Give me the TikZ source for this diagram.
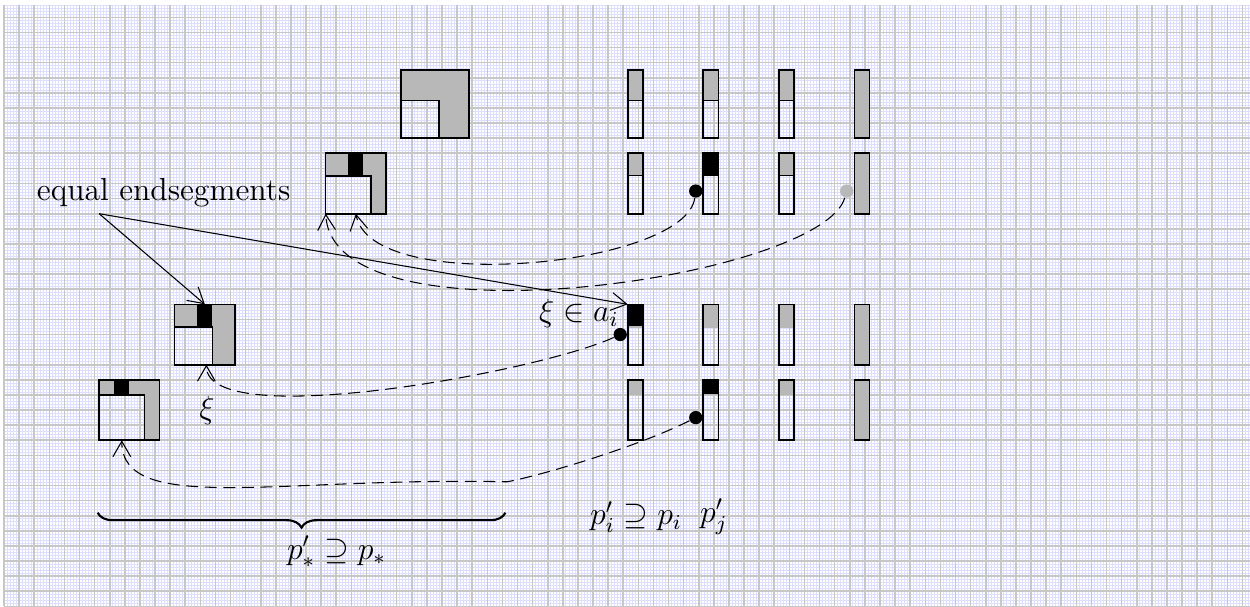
\documentclass[tikz,border=0pt,12pt]{standalone}
\usepackage{amsmath}
\usepackage{amssymb}
\usetikzlibrary{arrows.meta,decorations.pathreplacing}
\colorlet{endgray}{black!28}
\tikzset{
  dot/.style={circle,fill=black,minimum size=5pt,inner sep=0pt},
  ptr/.style={-{Straight Barb[length=5.8pt,width=6.7pt]}},
  conn/.style={ptr,dash pattern=on 4.5pt off 2.5pt},
  box/.style={semithick}
}

\begin{document}
\begin{tikzpicture}[x=0.2cm,y=0.2cm]
   \useasboundingbox (-0.565,0) rectangle (82.2,40.15);
   % graph paper
   \draw[shift={(-0.3,0)},step=0.2,blue!13,line width=0.25pt] (0,0) grid (82.5,39.85);
   \draw[shift={(-0.3,0)},step=1,black!22,line width=0.6pt] (0,0) grid (82.5,39.85);

   % the squares
   \fill[endgray,even odd rule] (26,31) rectangle (30.5,35.5) (26,31) rectangle (28.5,33.5);
   \draw[box] (26,31) rectangle (30.5,35.5) (26,31) rectangle (28.5,33.5);
   \fill[endgray,even odd rule] (21,26) rectangle (25,30) (21,26) rectangle (24,28.5);
   \fill (22.5,28.5) rectangle (23.5,30);
   \draw[box] (21,26) rectangle (25,30) (21,26) rectangle (24,28.5);
   \fill[endgray,even odd rule] (11,16) rectangle (15,20) (11,16) rectangle (13.5,18.5);
   \fill (12.5,18.5) rectangle (13.5,20);
   \draw[box] (11,16) rectangle (15,20) (11,16) rectangle (13.5,18.5);
   \fill[endgray,even odd rule] (6,11) rectangle (10,15) (6,11) rectangle (9,14);
   \fill (7,14) rectangle (8,15);
   \draw[box] (6,11) rectangle (10,15) (6,11) rectangle (9,14);

   % the columns
   \foreach \lo/\mid/\hi/\fa/\fb/\fc/\sep in {31/33.5/35.5/endgray/endgray/endgray/black,
        26/28.5/30/endgray/black/endgray/black, 16/18.5/20/black/endgray/endgray/endgray,
        11/14/15/endgray/black/endgray/endgray} {
     \foreach \x/\f in {41/\fa, 46/\fb, 51/\fc} {
       \fill[fill=\f] (\x,\mid) rectangle (\x+1,\hi);
       \draw[draw=\sep] (\x,\mid) -- (\x+1,\mid);
       \draw[box] (\x,\lo) rectangle (\x+1,\hi);
     }
     \filldraw[box,fill=endgray] (56,\lo) rectangle (57,\hi);
   }

   \node[dot] (d2) at (45.5,27.5) {};
   \node[dot,fill=endgray] (d4) at (55.5,27.5) {};
   \node[dot] (d3) at (40.5,18) {};
   \node[dot] (d5) at (45.5,12.5) {};

   \coordinate (Bl) at (21,26);
   \coordinate (Bm) at (23,26);
   \coordinate (Ct) at (13,20);
   \coordinate (Cb) at (13.1,16);
   \coordinate (Db) at (7.5,11);
   \coordinate (ai) at (41,20);
   \coordinate (eqs) at (6,26);
   \coordinate (dip) at (33,8.25);

   \node (eqtxt) at (10.27,27.4) {equal endsegments};
   \node (xiai) at (37.76,19.36) {$\xi\in a_i$};
   \node (xi) at (13.14,12.97) {$\xi$};
   \node (pi) at (41.55,5.93) {$p'_i\supseteq p_i$};
   \node (pj) at (46.7,5.93) {$p'_j$};
   \node (ps) at (21.72,3.62) {$p'_*\supseteq p_*$};

   \draw[ptr] (eqs) -- (Ct);
   \draw[ptr] (eqs) -- (ai);

   \draw[conn] (d2) .. controls +(-0.7,-5) and +(1,-5.5) .. (Bm);
   \draw[conn] (d4) .. controls +(-1.7,-5.8) and +(0.5,-9) .. (Bl);
   \draw[conn] (d3) .. controls +(-5.5,-2.5) and +(0,-4.5) .. (Cb);
   \draw[conn] (d5) .. controls +(-4,-2) and +(2,0.35) .. (dip)
      .. controls +(-15,0.35) and +(0,-5) .. (Db);

   \draw[decorate,decoration={brace,mirror,amplitude=5.6pt},thick] (5.9,6.2) -- (32.9,6.2);
\end{tikzpicture}
\end{document}
